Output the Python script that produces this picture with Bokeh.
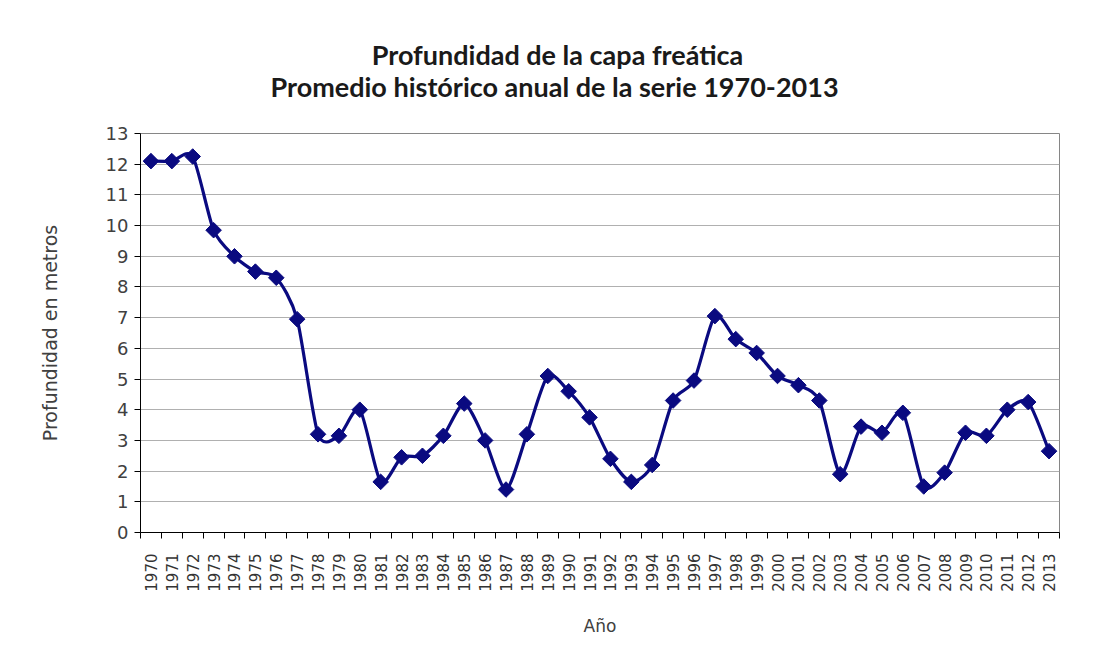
import math
from bokeh.plotting import figure
from bokeh.layouts import column
from bokeh.models import ColumnDataSource, FixedTicker, Label
from bokeh.embed import file_html
from bokeh.resources import INLINE

years = [str(y) for y in range(1970, 2014)]
depth = [12.1, 12.1, 12.25, 9.85, 9.0, 8.5, 8.3, 6.95, 3.2, 3.15,
         4.0, 1.65, 2.45, 2.5, 3.15, 4.2, 3.0, 1.4, 3.2, 5.1,
         4.6, 3.75, 2.4, 1.65, 2.2, 4.3, 4.95, 7.05, 6.3, 5.85,
         5.1, 4.8, 4.3, 1.9, 3.45, 3.25, 3.9, 1.5, 1.95, 3.25,
         3.15, 4.0, 4.25, 2.65]
title_lines = ["Profundidad de la capa freática",
               "Promedio histórico anual de la serie 1970-2013"]
y_label = "Profundidad en metros"
x_label = "Año"

LINE = "#0a0a80"

xs = list(range(len(years)))
src = ColumnDataSource(dict(x=xs, y=depth))

# smoothed line (cardinal spline -> cubic Bezier) built from the data points
n = len(xs)
K = 1.0 / 8.0
def P(i):
    i = max(0, min(n - 1, i))
    return xs[i], depth[i]
bz = dict(x0=[], y0=[], x1=[], y1=[], cx0=[], cy0=[], cx1=[], cy1=[])
for i in range(n - 1):
    xa, ya = P(i); xb, yb = P(i + 1)
    xp, yp = P(i - 1); xn, yn = P(i + 2)
    bz["x0"].append(xa); bz["y0"].append(ya)
    bz["x1"].append(xb); bz["y1"].append(yb)
    bz["cx0"].append(xa + (xb - xp) * K); bz["cy0"].append(ya + (yb - yp) * K)
    bz["cx1"].append(xb - (xn - xa) * K); bz["cy1"].append(yb - (yn - ya) * K)
bsrc = ColumnDataSource(bz)

W = 1095
TOP_H = 118
BL, BR = 140, 36          # frame spans pixels BL .. W-BR

# ---- title strip (its frame lines up with the chart frame) ----
t = figure(width=W, height=TOP_H, output_backend="svg", toolbar_location=None,
           x_range=(BL, W - BR), y_range=(0, TOP_H),
           min_border_left=BL, min_border_right=BR,
           min_border_top=0, min_border_bottom=0,
           x_axis_location=None, y_axis_location=None,
           background_fill_color="white", border_fill_color="white")
t.grid.visible = False
t.outline_line_color = None
for txt, cx, cy in zip(title_lines, [557, 554], [TOP_H - 54, TOP_H - 86]):
    t.add_layout(Label(x=cx, y=cy, text=txt, text_align="center",
                       text_baseline="middle", text_font="Lato",
                       text_font_style="bold", text_font_size="27px",
                       text_color="#1a1a1a"))

# ---- chart ----
p = figure(width=W, height=535, output_backend="svg", toolbar_location=None,
           x_range=(-0.5, n - 0.5), y_range=(0, 13),
           min_border_left=BL, min_border_right=BR,
           min_border_top=15, min_border_bottom=121,
           background_fill_color="white", border_fill_color="white")

p.outline_line_color = "#868686"
p.outline_line_width = 1

p.bezier(x0="x0", y0="y0", x1="x1", y1="y1", cx0="cx0", cy0="cy0",
         cx1="cx1", cy1="cy1", source=bsrc, line_color=LINE, line_width=3.2)
p.scatter("x", "y", source=src, marker="square", size=11, angle=math.pi / 4,
          fill_color=LINE, line_color=LINE)

p.xgrid.grid_line_color = None
p.ygrid.grid_line_color = "#b0b0b0"
p.ygrid.grid_line_width = 1

p.yaxis.ticker = FixedTicker(ticks=list(range(0, 14)))
p.yaxis.axis_line_color = "black"
p.yaxis.major_tick_line_color = "black"
p.yaxis.major_tick_out = 6
p.yaxis.major_tick_in = 0
p.yaxis.minor_tick_line_color = None
p.yaxis.major_label_text_font = "DejaVu Sans"
p.yaxis.major_label_text_font_size = "18px"
p.yaxis.major_label_text_color = "#404040"
p.yaxis.major_label_standoff = 6
p.yaxis.axis_label = y_label
p.yaxis.axis_label_text_font = "DejaVu Sans"
p.yaxis.axis_label_text_font_size = "19px"
p.yaxis.axis_label_text_font_style = "normal"
p.yaxis.axis_label_text_color = "#404040"
p.yaxis.axis_label_standoff = 42

p.xaxis.ticker = FixedTicker(ticks=xs, minor_ticks=[i - 0.5 for i in range(n + 1)])
p.xaxis.major_label_overrides = {i: years[i] for i in xs}
p.xaxis.major_label_orientation = math.pi / 2
p.xaxis.axis_line_color = "black"
p.xaxis.major_tick_out = 0
p.xaxis.major_tick_in = 0
p.xaxis.minor_tick_out = 6
p.xaxis.minor_tick_in = 0
p.xaxis.minor_tick_line_color = "black"
p.xaxis.major_label_text_font = "DejaVu Sans"
p.xaxis.major_label_text_font_size = "15px"
p.xaxis.major_label_text_color = "#333333"
p.xaxis.major_label_standoff = 15
p.xaxis.axis_label = x_label
p.xaxis.axis_label_text_font = "DejaVu Sans"
p.xaxis.axis_label_text_font_size = "17px"
p.xaxis.axis_label_text_font_style = "normal"
p.xaxis.axis_label_text_color = "#404040"
p.xaxis.axis_label_standoff = 21

layout = column(t, p, spacing=0)
open("out.html", "w").write(file_html(layout, INLINE))
